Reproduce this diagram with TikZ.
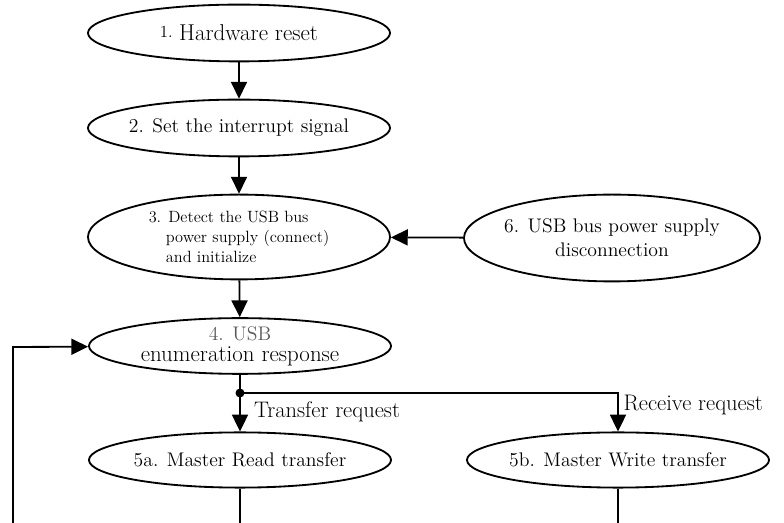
\documentclass[tikz,border=0pt]{standalone}
\definecolor{labelgray}{RGB}{90, 90, 90}
\usepackage{tikz}
\usetikzlibrary{positioning,shapes,arrows.meta,calc}

\tikzset{
    state/.style={ellipse,draw,line width=1.3pt,inner ysep=0pt,inner xsep=-6pt,
        minimum width=7.55cm,minimum height=1.42cm,align=center,
        font=\fontsize{14}{17}\selectfont},
    flow/.style={line width=1.3pt,-{Triangle[length=4.2mm,width=4mm]}},
    plain/.style={line width=1.3pt}
}

\begin{document}
\begin{tikzpicture}[x=0.025cm,y=-0.025cm]
    \useasboundingbox (0,0) rectangle (784,523);

    % main chain
    \node[state] (reset) at (239,33) {{\fontsize{12}{13}\selectfont\raisebox{0.45ex}{1.}} {\fontsize{16.3}{19}\selectfont Hardware reset}};
    \node[state] (irq) at (239,128) {2. Set the interrupt signal};
    \node[state,minimum height=2.12cm,align=left,font=\fontsize{11.6}{14.2}\selectfont] (detect) at (239,237)
        {3. Detect the USB bus\\\hspace{1.05em}power supply (connect)\\\hspace{1.05em}and initialize};
    \node[state,minimum width=7.4cm,minimum height=2.17cm] (disconnect) at (612,238)
        {6. USB bus power supply\\disconnection};
    \node[state,minimum height=1.38cm,font=\fontsize{16.3}{15}\selectfont] (enum) at (240,346)
        {{\fontsize{14}{14}\selectfont\color{labelgray}4. USB}\\enumeration response};
    \node[state,minimum height=1.38cm] (read) at (240,460) {5a. Master Read transfer};
    \node[state,minimum height=1.38cm] (write) at (618,460) {5b. Master Write transfer};

    \draw[flow] (reset) -- (irq);
    \draw[flow] (irq) -- (detect);
    \draw[flow] (detect) -- (enum);
    \draw[flow] (disconnect) -- (detect);

    % branch to the transfers
    \coordinate (split) at (240,393);
    \coordinate (turn) at (618,393);
    \draw[plain] (enum) -- (split);
    \draw[flow] (split) -- (read) node[pos=0.5,right=6pt,font=\fontsize{16}{19}\selectfont] {Transfer request};
    \draw[flow] (split) -- (turn) -- (write) node[pos=0.3,right,font=\fontsize{16}{19}\selectfont] {Receive request};
    \fill (split) circle (4.5);

    % leaving the picture and the loop back
    \coordinate (readout) at (240,523);
    \coordinate (writeout) at (618,523);
    \coordinate (loopfoot) at (13,523);
    \coordinate (loopcorner) at (13,347);
    \draw[plain] (read) -- (readout);
    \draw[plain] (write) -- (writeout);
    \draw[flow] (loopfoot) -- (loopcorner) -- (enum);
\end{tikzpicture}
\end{document}
